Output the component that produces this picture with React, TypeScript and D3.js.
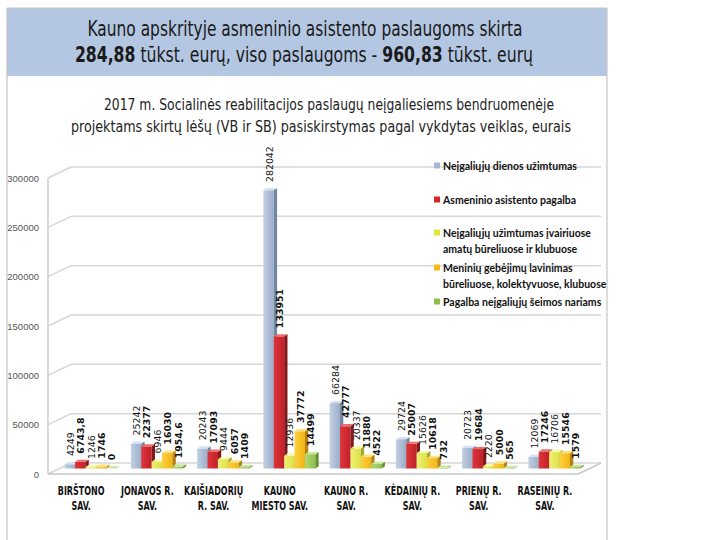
import React from "react";
import * as d3 from "d3";

const categoryLine1 = ["BIRŠTONO", "JONAVOS R.", "KAIŠIADORIŲ", "KAUNO", "KAUNO R.", "KĖDAINIŲ R.", "PRIENŲ R.", "RASEINIŲ R."];
const categoryLine2 = ["SAV.", "SAV.", "R. SAV.", "MIESTO SAV.", "SAV.", "SAV.", "SAV.", "SAV."];

const seriesNames = [
  ["Neįgaliųjų dienos užimtumas"],
  ["Asmeninio asistento pagalba"],
  ["Neįgaliųjų užimtumas įvairiuose", "amatų būreliuose ir klubuose"],
  ["Meninių gebėjimų lavinimas", "būreliuose, kolektyvuose, klubuose"],
  ["Pagalba neįgaliųjų šeimos nariams"],
];

const dienosUzimtumas = [4249, 25242, 20243, 282042, 66284, 29724, 20723, 12069];
const asmeninioAsistento = [6743.8, 22377, 17093, 133951, 42777, 25007, 19684, 17246];
const amatuBureliai = [1246, 6946, 9444, 12936, 20337, 15626, 2220, 16706];
const meniniuGebejimu = [1746, 16030, 6057, 37772, 11880, 10618, 5000, 15546];
const seimosNariams = [0, 1954.6, 1409, 14499, 4522, 732, 565, 1579];
const seriesValues = [dienosUzimtumas, asmeninioAsistento, amatuBureliai, meniniuGebejimu, seimosNariams];

const yTicks = [0, 50000, 100000, 150000, 200000, 250000, 300000];

const palette = [
  { f1: "#c2d0e3", f2: "#9badc9", side: "#72879f", top: "#d6e0ee", legend: "#a2b8d6", bold: false },
  { f1: "#e0353b", f2: "#bf2128", side: "#86161b", top: "#ea6d6f", legend: "#d4252c", bold: true },
  { f1: "#eef074", f2: "#dde046", side: "#a6a82a", top: "#f6f8a6", legend: "#e2e53a", bold: false },
  { f1: "#fcd040", f2: "#f2b514", side: "#b5800e", top: "#fde282", legend: "#f5b91a", bold: true },
  { f1: "#b0d873", f2: "#8fbf4c", side: "#668f30", top: "#c9e69e", legend: "#8dbf4b", bold: true },
];

const fmt = (v: number) => String(v).replace(".", ",");

export default function App() {
  const frontLeft = 48;
  const frontRight = 578;
  const ddx = 23;
  const ddy = -11;
  const yBack = d3.scaleLinear().domain([0, 300000]).range([463, 167]);
  const x0 = d3.scaleBand<number>().domain(d3.range(categoryLine1.length)).range([frontLeft, frontRight]);
  const groupW = 52;
  const x1 = d3.scaleBand<number>().domain(d3.range(seriesValues.length)).range([0, groupW]);
  const groupOff = (x0.bandwidth() - groupW) / 2 + 9.5;
  const barY = (v: number) => yBack(v) + 5.5;
  const sdx = 3.3;
  const sdy = 2.2;
  const bw = x1.bandwidth();

  const narrow = "'DejaVu Sans Condensed', 'Liberation Sans', sans-serif";

  return (
    <svg width={720} height={540} style={{ position: "absolute", left: 0, top: 0, background: "#fff" }}>
      <defs>
        {palette.map((p, i) => (
          <linearGradient key={i} id={`g${i}`} x1="0" x2="1" y1="0" y2="0">
            <stop offset="0" stopColor={p.f1} />
            <stop offset="1" stopColor={p.f2} />
          </linearGradient>
        ))}
      </defs>
      <rect x={0} y={0} width={720} height={540} fill="#fff" />
      {/* header band */}
      <rect x={7} y={8} width={600} height={68} fill="#b4c7e2" />
      <line x1={7} y1={8} x2={7} y2={540} stroke="#c4c4c4" strokeWidth={1.2} />
      <line x1={607} y1={8} x2={607} y2={540} stroke="#c4c4c4" strokeWidth={1.2} />
      <line x1={7} y1={8} x2={607} y2={8} stroke="#c4c4c4" strokeWidth={1} />
      <text x={305} y={36} textAnchor="middle" fontFamily={narrow} fontSize={20.5} fill="#1a1a1a"
        textLength={435} lengthAdjust="spacingAndGlyphs">
        Kauno apskrityje asmeninio asistento paslaugoms skirta
      </text>
      <g transform="translate(304,62) scale(0.85,1)">
        <text x={0} y={0} textAnchor="middle" fontFamily={narrow} fontSize={20.5} fill="#1a1a1a">
          <tspan fontWeight="bold">284,88</tspan>
          <tspan> tūkst. eurų, viso paslaugoms - </tspan>
          <tspan fontWeight="bold">960,83</tspan>
          <tspan> tūkst. eurų</tspan>
        </text>
      </g>
      <text x={329} y={110} textAnchor="middle" fontFamily={narrow} fontSize={16} fill="#222"
        textLength={450} lengthAdjust="spacingAndGlyphs">
        2017 m. Socialinės reabilitacijos paslaugų neįgaliesiems bendruomenėje
      </text>
      <text x={321} y={132} textAnchor="middle" fontFamily={narrow} fontSize={16} fill="#222"
        textLength={500} lengthAdjust="spacingAndGlyphs">
        projektams skirtų lėšų (VB ir SB) pasiskirstymas pagal vykdytas veiklas, eurais
      </text>

      {/* walls and gridlines */}
      {yTicks.map((t) => (
        <g key={t}>
          <line x1={frontLeft + ddx} x2={frontRight + ddx} y1={yBack(t)} y2={yBack(t)} stroke="#d6d6d6" strokeWidth={1.5} />
          <line x1={frontLeft} y1={yBack(t) - ddy} x2={frontLeft + ddx} y2={yBack(t)} stroke="#d6d6d6" strokeWidth={1.5} />
          <text x={39} y={yBack(t) - ddy + 3.5} textAnchor="end" fontFamily="'Liberation Sans', Arial, sans-serif"
            fontSize={9.5} fill="#555">{t}</text>
        </g>
      ))}
      <line x1={frontLeft} x2={frontLeft} y1={yBack(300000) - ddy} y2={yBack(0) - ddy} stroke="#c8c8c8" strokeWidth={1.3} />
      <line x1={frontLeft} x2={frontRight} y1={yBack(0) - ddy} y2={yBack(0) - ddy} stroke="#c8c8c8" strokeWidth={1.5} />
      <line x1={frontRight} x2={frontRight + ddx} y1={yBack(0) - ddy} y2={yBack(0)} stroke="#c8c8c8" strokeWidth={1.5} />

      {/* legend */}
      {(() => {
        const rows = [166, 200, 233, 268, 302];
        return seriesNames.map((lines, i) => (
          <g key={i}>
            <rect x={434} y={rows[i] - 3.5} width={6} height={6} fill={palette[i].legend} />
            {lines.map((l, j) => (
              <text key={j} x={443} y={rows[i] + 3.5 + j * 16.5} fontFamily="Lato, 'Open Sans', sans-serif"
                fontWeight="bold" fontSize={10.5} fill="#111">{l}</text>
            ))}
          </g>
        ));
      })()}

      {/* bars */}
      {categoryLine1.map((_, ci) => (
        <g key={ci}>
          {seriesValues.map((vals, si) => {
            const v = vals[ci];
            const x = (x0(ci) as number) + groupOff + (x1(si) as number);
            const top = barY(v);
            const base = barY(0);
            const p = palette[si];
            return (
              <g key={si}>
                {base - top > 0 && <rect x={x} y={top} width={bw} height={base - top} fill={`url(#g${si})`} />}
                {base - top > 0 && (
                  <polygon points={`${x + bw},${top} ${x + bw + sdx},${top - sdy} ${x + bw + sdx},${base - sdy} ${x + bw},${base}`}
                    fill={p.side} />
                )}
                <polygon points={`${x},${top} ${x + bw},${top} ${x + bw + sdx},${top - sdy} ${x + sdx},${top - sdy}`}
                  fill={p.top} />
              </g>
            );
          })}
        </g>
      ))}

      {/* data labels */}
      {categoryLine1.map((_, ci) => (
        <g key={ci}>
          {seriesValues.map((vals, si) => {
            const v = vals[ci];
            const x = (x0(ci) as number) + groupOff + (x1(si) as number);
            const top = barY(v) - sdy;
            const lx = x + bw / 2 + 4;
            const ly = top - 6;
            return (
              <text key={si} transform={`translate(${lx},${ly}) rotate(-90)`} fontFamily="'DejaVu Sans', Verdana, sans-serif"
                fontSize={9.4} fontWeight={palette[si].bold ? "bold" : "normal"} fill="#111">
                {fmt(v)}
              </text>
            );
          })}
        </g>
      ))}

      {/* category labels */}
      {categoryLine1.map((c, ci) => {
        const cx = (x0(ci) as number) + x0.bandwidth() / 2;
        return (
          <g key={ci} transform={`translate(${cx},0) scale(0.74,1)`}>
            <text x={0} y={495} textAnchor="middle" fontFamily={narrow} fontWeight="bold" fontSize={12} fill="#111">{c}</text>
            <text x={0} y={510} textAnchor="middle" fontFamily={narrow} fontWeight="bold" fontSize={12} fill="#111">{categoryLine2[ci]}</text>
          </g>
        );
      })}
    </svg>
  );
}
